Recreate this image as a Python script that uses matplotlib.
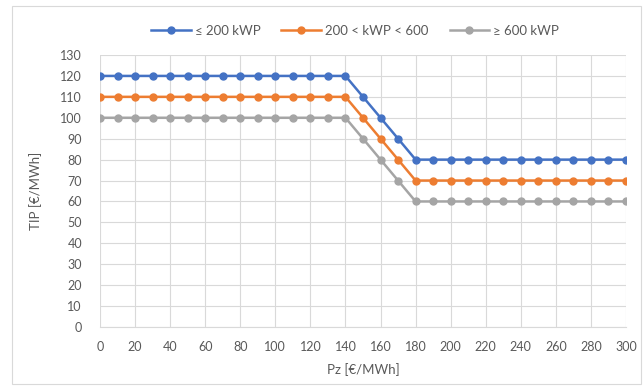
import matplotlib
matplotlib.use("Agg")
import matplotlib.pyplot as plt
import numpy as np

plt.rcParams['font.family'] = ['Lato', 'DejaVu Sans']

pz = list(range(0, 310, 10))
tip_small = [120] * 15 + [110, 100, 90] + [80] * 13
tip_mid = [110] * 15 + [100, 90, 80] + [70] * 13
tip_large = [100] * 15 + [90, 80, 70] + [60] * 13

labels = ["≤ 200 kWP", "200 < kWP < 600", "≥ 600 kWP"]
colors = ["#4472C4", "#ED7D31", "#A5A5A5"]
txt = "#595959"

fig = plt.figure(figsize=(6.43, 3.92), dpi=100)
ax = fig.add_axes([100 / 643, 1 - 327 / 392, 526 / 643, 272 / 392])

for vals, lab, c in zip([tip_small, tip_mid, tip_large], labels, colors):
    ax.plot(pz, vals, color=c, lw=1.8, marker="o", ms=5, label=lab, zorder=3)

ax.set_xlim(0, 300)
ax.set_ylim(0, 130)
ax.set_xticks(range(0, 301, 20))
ax.set_yticks(range(0, 131, 10))
ax.grid(True, color="#D9D9D9", lw=0.8)
ax.tick_params(length=0, colors=txt, labelsize=9)
ax.tick_params(axis="x", pad=10)
ax.tick_params(axis="y", pad=13)
for s in ax.spines.values():
    s.set_visible(False)
ax.spines['bottom'].set_visible(True)
ax.spines['bottom'].set_color("#D9D9D9")

ax.set_xlabel("Pz [€/MWh]", color=txt, fontsize=9.5, labelpad=7)
ax.set_ylabel("TIP [€/MWh]", color=txt, fontsize=9.5, labelpad=13)

fig.legend(loc="center", bbox_to_anchor=(355 / 643, 1 - 31 / 392), ncol=3,
           frameon=False, fontsize=9.5, labelcolor=txt, handlelength=3.0,
           columnspacing=1.6, handletextpad=0.3)

# chart area border
fig.patches.append(plt.Rectangle((12 / 643, 1 - 384 / 392), 629 / 643, 378 / 392,
                                 transform=fig.transFigure, fill=False,
                                 ec="#D9D9D9", lw=0.8))

fig.savefig("out.png", dpi=100)
